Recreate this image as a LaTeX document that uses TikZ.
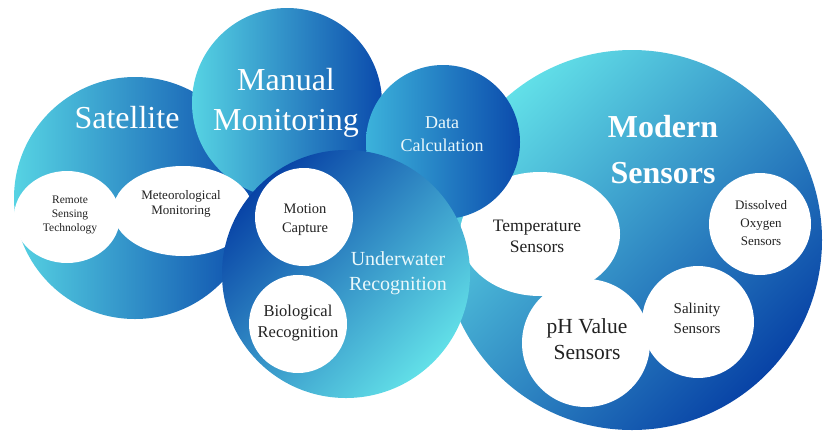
\documentclass[tikz,border=0pt]{standalone}
\usepackage{fontspec}
\setmainfont{Liberation Serif}
\usetikzlibrary{shapes.geometric}
\definecolor{cyanL}{HTML}{56D3E3}
\definecolor{cyanX}{HTML}{62E0E8}
\definecolor{cyanM}{HTML}{3CB2DB}
\definecolor{blueD}{HTML}{0B4BAC}
\definecolor{blueX}{HTML}{0843A6}
\definecolor{txtD}{HTML}{222222}
\definecolor{txtL}{HTML}{EAF8FB}
\begin{document}
\begin{tikzpicture}[x=1pt,y=-1pt,
  bubble/.style={circle, inner sep=0pt, outer sep=0pt, minimum size=#1},
  hshade/.style={left color=cyanL, right color=blueD},
  whitebub/.style={fill=white, draw=none},
  whiteell/.style={ellipse, fill=white, inner sep=0pt, minimum width=#1},
  bigtxt/.style={text=white, align=center, inner sep=0pt, font=\fontsize{32}{40}\selectfont},
  smalltxt/.style={text=txtD, align=center, inner sep=0pt},
]
\useasboundingbox (0,0) rectangle (824,432);

% Satellite
\node[bubble=242pt, hshade] (sat) at (135,198) {};
% Manual Monitoring
\node[bubble=190pt, hshade] (man) at (287,103) {};
% Modern Sensors
\node[bubble=380pt, left color=cyanX, right color=blueX, shading angle=45] (mod) at (632,240) {};
% white circles of Modern Sensors
\node[whiteell=160pt, minimum height=124pt] (temp) at (540,234) {};
\node[bubble=128pt, whitebub] (ph) at (586,343) {};
\node[bubble=112pt, whitebub] (sal) at (698,322) {};
\node[bubble=102pt, whitebub] (dox) at (760,224) {};
% white circles of Satellite
\node[whiteell=106pt, minimum height=92pt] (rem) at (67,217) {};
\node[whiteell=140pt, minimum height=90pt] (met) at (183,211) {};
% Data Calculation
\node[bubble=154pt, left color=cyanM, right color=blueD] (dat) at (443,142) {};
% Underwater Recognition
\node[bubble=248pt, left color=blueX, right color=cyanX, shading angle=45] (und) at (346,274) {};
\node[bubble=98pt, whitebub] (mot) at (304,217) {};
\node[bubble=98pt, whitebub] (bio) at (298,324) {};

% texts
\node[bigtxt, anchor=base] (tsat) at (127,128) {Satellite};
\node[bigtxt] (tman) at (286,102.5) {Manual\\Monitoring};
\node[bigtxt, font=\bfseries\fontsize{32}{46}\selectfont] (tmod) at (663,150) {Modern\\Sensors};
\node[text=txtL, align=center, inner sep=0pt, font=\fontsize{18}{23}\selectfont] (tdat) at (442,134.5) {Data\\Calculation};
\node[text=txtL, align=center, inner sep=0pt, font=\fontsize{20}{25}\selectfont] (tund) at (398,273) {Underwater\\Recognition};

\node[smalltxt, font=\fontsize{11.5}{14}\selectfont] (trem) at (70,214.5) {Remote\\Sensing\\Technology};
\node[smalltxt, font=\fontsize{13}{15}\selectfont] (tmet) at (181,204) {Meteorological\\Monitoring};
\node[smalltxt, font=\fontsize{14.5}{19}\selectfont] (tmot) at (305,219.3) {Motion\\Capture};
\node[smalltxt, font=\fontsize{16.5}{21}\selectfont] (tbio) at (298,322.7) {Biological\\Recognition};
\node[smalltxt, font=\fontsize{17.5}{21}\selectfont] (ttemp) at (537,236.7) {Temperature\\Sensors};
\node[smalltxt, font=\fontsize{21.5}{26}\selectfont] (tph) at (587,338.7) {pH Value\\Sensors};
\node[smalltxt, font=\fontsize{15}{20}\selectfont] (tsal) at (697,318) {Salinity\\Sensors};
\node[smalltxt, font=\fontsize{13}{18}\selectfont] (tdox) at (761,222.6) {Dissolved\\Oxygen\\Sensors};
\end{tikzpicture}
\end{document}
